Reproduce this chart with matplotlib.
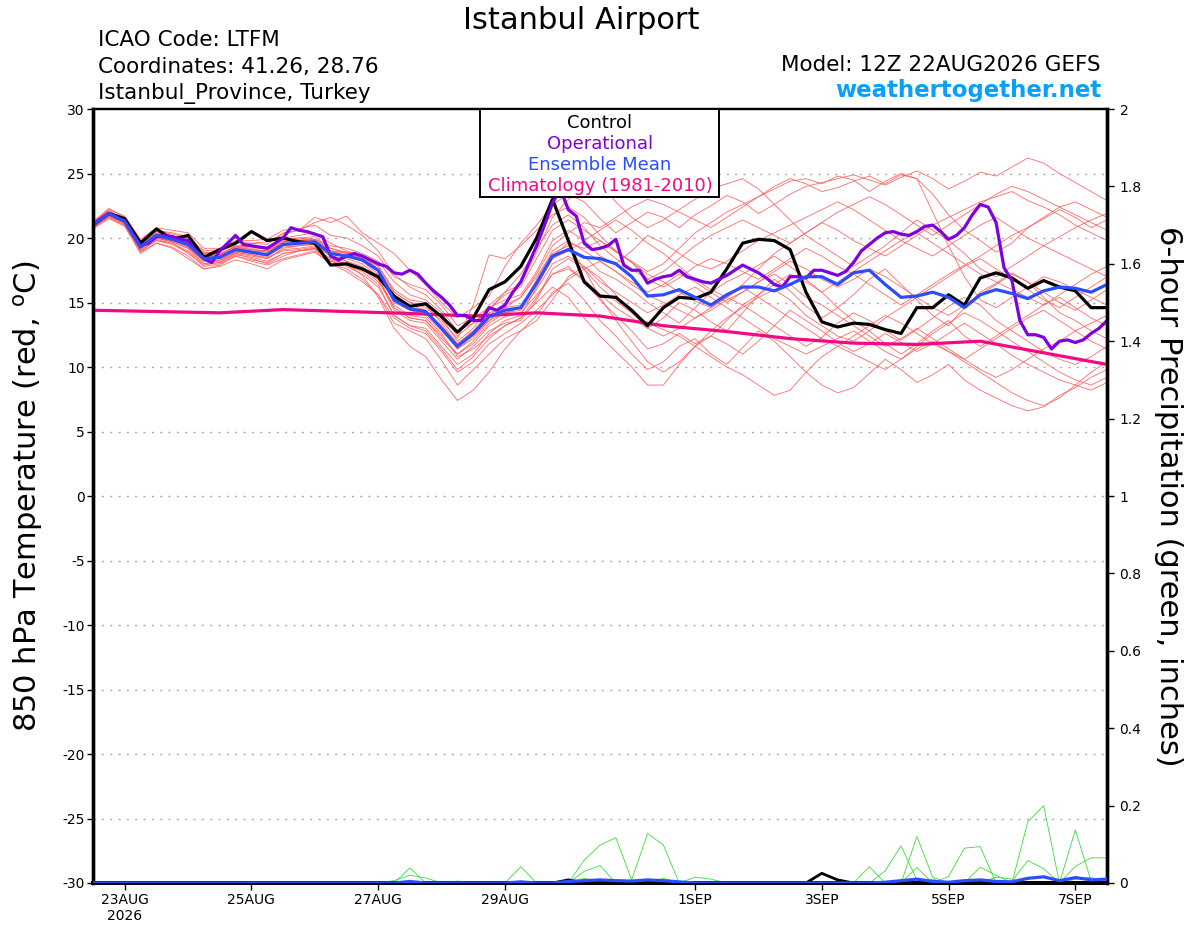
import matplotlib
matplotlib.use("Agg")
import matplotlib.pyplot as plt
import numpy as np
import pandas as pd

plt.rcParams['font.family'] = ['DejaVu Sans']

# ---------------- data ----------------
start = "2026-08-22 12:00"
n6 = 65
times6 = pd.date_range(start, periods=n6, freq="6h")
times3 = pd.date_range(start, periods=129, freq="3h")
clim_times = pd.date_range(start, periods=17, freq="24h")

control = [21.0, 21.9, 21.5, 19.6, 20.7, 19.9, 20.2, 18.5, 19.1, 19.6,
           20.5, 19.8, 20.0, 19.7, 19.6, 17.9, 18.0, 17.6, 17.0, 15.5,
           14.7, 14.9, 13.9, 12.7, 13.8, 16.0, 16.6, 17.8, 20.0, 23.0,
           19.8, 16.6, 15.5, 15.4, 14.4, 13.2, 14.6, 15.4, 15.3, 15.8,
           17.6, 19.6, 19.9, 19.8, 19.1, 15.8, 13.5, 13.1, 13.4, 13.3,
           12.9, 12.6, 14.6, 14.6, 15.6, 14.8, 16.9, 17.3, 16.9, 16.1,
           16.7, 16.2, 15.9, 14.6, 14.6]

operational = [21.0, 21.5, 21.9, 21.6, 21.3, 20.3, 19.4, 19.6, 20.1, 20.2,
               20.1, 19.9, 19.8, 19.0, 18.4, 18.1, 19.0, 19.6, 20.2, 19.5,
               19.4, 19.3, 19.2, 19.6, 20.0, 20.8, 20.6, 20.5, 20.3, 20.1,
               18.6, 18.3, 18.6, 18.8, 18.6, 18.3, 18.0, 17.8, 17.3, 17.2,
               17.5, 17.2, 16.5, 15.9, 15.4, 14.8, 14.0, 14.0, 13.6, 13.6,
               14.6, 14.4, 14.8, 15.8, 16.6, 18.0, 19.4, 21.0, 22.7, 23.8,
               22.2, 21.7, 19.6, 19.1, 19.2, 19.4, 19.9, 17.9, 17.5, 17.5,
               16.5, 16.8, 17.0, 17.1, 17.5, 17.0, 16.8, 16.6, 16.5, 16.8,
               17.1, 17.5, 17.9, 17.6, 17.3, 16.9, 16.4, 16.2, 17.0, 17.0,
               16.9, 17.5, 17.5, 17.3, 17.1, 17.4, 18.1, 19.0, 19.5, 20.0,
               20.4, 20.5, 20.3, 20.2, 20.5, 20.9, 21.0, 20.5, 19.9, 20.2,
               20.8, 21.8, 22.6, 22.4, 21.2, 17.7, 16.7, 13.6, 12.5, 12.5,
               12.3, 11.4, 12.0, 12.1, 11.9, 12.1, 12.6, 13.0, 13.6]

ens_mean = [21.0, 21.9, 21.3, 19.3, 20.2, 19.9, 19.5, 18.4, 18.5, 19.1,
            18.9, 18.7, 19.5, 19.6, 19.7, 18.8, 18.6, 18.3, 17.5, 15.2,
            14.5, 14.3, 13.0, 11.6, 12.6, 13.9, 14.4, 14.6, 16.5, 18.6,
            19.1, 18.5, 18.4, 18.0, 17.0, 15.5, 15.6, 16.0, 15.4, 14.8,
            15.6, 16.2, 16.2, 15.9, 16.4, 17.0, 17.0, 16.4, 17.3, 17.5,
            16.4, 15.4, 15.5, 15.8, 15.4, 14.6, 15.6, 16.0, 15.7, 15.3,
            15.9, 16.2, 16.1, 15.8, 16.4]

climatology = [14.4, 14.3, 14.2, 14.45, 14.3, 14.15, 13.95, 14.2, 13.95,
               13.2, 12.75, 12.2, 11.85, 11.75, 12.0, 11.1, 10.2]

m01 = [21.2, 22.3, 21.6, 19.8, 20.6, 20.3, 20.0, 18.9, 18.8, 19.3, 19.6, 19.5, 20.4, 20.6, 21.6,
       21.2, 21.7, 20.4, 19.6, 18.8, 17.5, 16.4, 15.0, 13.8, 14.6, 15.5, 17.8, 19.6, 21.0, 22.6, 23.4,
       22.8, 21.5, 20.4, 21.2, 22.0, 21.6, 20.8, 21.8, 22.5, 23.3, 22.8, 21.9, 22.6, 23.4, 24.0, 24.3, 24.6,
       24.9, 24.5, 24.1, 24.7, 25.2, 24.6, 23.8, 24.4, 25.1, 24.8, 25.5, 26.2, 25.8, 25.0, 24.3, 23.6, 22.9]
m02 = [20.8, 21.6, 21.0, 18.9, 19.6, 19.2, 18.4, 17.6, 17.8, 18.3, 18.0, 17.6, 18.3, 18.6, 18.9,
       18.0, 17.6, 16.8, 15.6, 13.4, 12.8, 12.2, 10.5, 8.6, 9.8, 11.0, 12.2, 12.8, 14.0, 15.8, 16.5,
       15.2, 13.6, 12.4, 11.0, 9.8, 10.4, 11.6, 12.2, 11.0, 10.2, 11.5, 12.8, 12.0, 10.8, 9.6, 8.6, 8.0,
       8.4, 9.5, 10.6, 9.8, 8.8, 9.4, 10.2, 9.0, 8.2, 7.6, 7.0, 6.6, 6.9, 7.8, 8.4, 9.2, 9.8]
m03 = [21.0, 21.8, 21.2, 19.0, 19.8, 19.6, 18.8, 17.9, 18.1, 18.8, 18.4, 18.0, 18.6, 19.0, 19.2,
       18.4, 18.0, 17.1, 15.4, 13.0, 11.6, 10.8, 9.0, 7.4, 8.2, 9.6, 11.4, 12.8, 13.6, 15.2, 17.0,
       17.8, 16.9, 15.6, 14.2, 13.0, 13.8, 15.0, 14.4, 13.5, 12.8, 14.2, 15.6, 16.8, 15.9, 14.7, 13.8, 14.6,
       15.6, 16.8, 17.6, 16.4, 15.2, 14.0, 13.2, 14.6, 15.8, 16.5, 17.3, 16.6, 15.4, 14.2, 13.6, 12.8, 12.2]
m04 = [21.1, 22.0, 21.4, 19.5, 20.4, 20.1, 19.6, 18.6, 18.7, 19.4, 19.2, 19.3, 19.9, 20.0, 19.9,
       19.4, 19.2, 18.8, 18.2, 16.6, 15.6, 15.2, 14.2, 12.4, 13.4, 14.5, 15.6, 16.2, 18.4, 20.6, 21.4,
       20.6, 19.8, 18.9, 18.2, 17.4, 18.0, 19.2, 20.4, 21.2, 22.0, 22.6, 23.2, 23.8, 24.4, 24.6, 24.2, 24.8,
       24.5, 23.6, 24.4, 25.0, 24.6, 23.4, 21.8, 20.6, 19.8, 18.9, 19.6, 20.8, 21.5, 22.2, 21.6, 20.8, 21.4]
m05 = [20.9, 21.7, 21.1, 19.1, 20.0, 19.7, 19.2, 18.0, 18.3, 18.8, 18.6, 18.4, 19.1, 19.2, 19.4,
       18.6, 18.4, 18.0, 17.0, 14.6, 13.8, 13.6, 12.2, 11.0, 11.8, 13.2, 13.9, 14.2, 15.6, 17.2, 17.8,
       16.6, 15.2, 14.0, 12.8, 11.4, 11.8, 12.6, 11.8, 12.4, 13.6, 14.8, 14.0, 13.2, 12.4, 11.6, 12.3, 13.4,
       14.2, 13.6, 12.8, 12.1, 12.9, 13.8, 14.7, 15.4, 14.8, 13.6, 12.8, 12.0, 11.2, 10.6, 10.2, 10.8, 11.6]
m06 = [21.0, 21.9, 21.4, 19.4, 20.3, 20.0, 19.8, 18.8, 18.9, 19.6, 19.4, 19.3, 20.0, 20.2, 20.4,
       19.6, 19.0, 18.6, 17.6, 15.8, 15.0, 14.6, 13.6, 12.2, 14.8, 18.7, 18.4, 19.4, 20.6, 21.8, 22.4,
       21.6, 20.2, 19.0, 18.1, 17.2, 16.6, 15.8, 15.1, 14.6, 15.4, 16.4, 17.6, 18.8, 19.6, 20.4, 21.2, 20.6,
       19.8, 19.2, 18.6, 19.4, 20.2, 21.0, 21.6, 22.2, 22.8, 23.2, 23.6, 22.9, 22.4, 21.8, 21.0, 20.4, 19.8]
m07 = [21.0, 21.8, 21.2, 19.2, 20.1, 19.8, 19.3, 18.2, 18.2, 18.9, 18.7, 18.4, 19.2, 19.4, 19.6,
       18.6, 18.2, 17.6, 16.6, 14.8, 14.0, 13.8, 12.6, 10.8, 11.4, 12.4, 13.2, 13.8, 15.0, 16.2, 15.4,
       13.8, 12.4, 11.2, 10.0, 8.6, 8.6, 10.2, 11.6, 12.4, 11.8, 11.0, 12.0, 13.2, 14.4, 13.6, 12.8, 11.9,
       11.2, 11.8, 12.6, 11.9, 11.2, 11.8, 12.6, 13.4, 12.6, 11.8, 10.9, 10.2, 9.6, 9.0, 8.6, 8.2, 8.8]
m08 = [21.2, 22.1, 21.5, 19.6, 20.5, 20.2, 19.8, 18.8, 19.0, 19.4, 19.3, 19.1, 19.8, 20.0, 20.1,
       19.2, 18.8, 18.5, 17.8, 16.0, 15.2, 15.0, 13.8, 12.0, 13.0, 14.8, 15.8, 16.4, 18.9, 21.6, 23.0,
       23.8, 24.2, 22.8, 21.6, 20.8, 21.4, 22.2, 23.0, 23.8, 24.2, 24.6, 23.8, 22.6, 21.4, 20.2, 19.4, 18.6,
       17.8, 18.6, 19.4, 20.4, 21.4, 20.6, 19.8, 18.8, 17.6, 17.0, 17.8, 18.6, 19.4, 20.1, 20.8, 21.4, 21.9]
m09 = [20.8, 21.7, 21.2, 19.0, 19.9, 19.6, 19.0, 18.0, 18.1, 18.7, 18.5, 18.2, 18.8, 19.0, 19.2,
       18.2, 17.9, 17.4, 16.4, 14.0, 13.2, 13.0, 11.6, 10.2, 11.0, 12.6, 13.6, 14.0, 16.2, 18.4, 19.2,
       18.6, 17.4, 16.8, 16.0, 15.0, 14.2, 13.4, 14.6, 15.8, 16.6, 17.2, 17.9, 18.6, 17.8, 16.8, 15.8, 14.6,
       13.6, 12.8, 11.8, 11.0, 11.8, 12.8, 13.6, 12.4, 11.6, 12.4, 13.2, 14.0, 14.8, 15.4, 14.6, 13.8, 13.2]
m10 = [21.1, 21.9, 21.4, 19.6, 20.4, 20.0, 19.6, 18.6, 18.6, 19.2, 19.0, 18.9, 19.6, 19.8, 19.8,
       19.0, 18.9, 18.6, 17.9, 15.8, 15.0, 14.8, 13.4, 11.8, 12.8, 14.2, 14.6, 14.8, 16.6, 18.6, 19.6,
       19.2, 19.8, 19.0, 18.1, 16.8, 16.2, 16.9, 17.8, 18.4, 18.0, 17.4, 16.8, 17.6, 18.4, 19.2, 18.6, 17.8,
       17.2, 16.4, 15.6, 14.8, 15.6, 16.4, 17.2, 17.9, 18.6, 19.4, 20.2, 20.8, 21.6, 22.4, 22.8, 22.2, 21.6]
m11 = [20.9, 21.8, 21.1, 19.2, 20.0, 19.7, 19.2, 18.2, 18.3, 18.9, 18.7, 18.5, 19.0, 19.1, 19.3,
       18.3, 18.0, 17.6, 16.8, 14.4, 13.6, 13.4, 12.0, 10.6, 11.6, 12.8, 13.4, 13.6, 15.2, 17.6, 18.4,
       17.6, 16.2, 15.1, 14.2, 13.4, 12.9, 12.4, 11.6, 10.8, 10.0, 9.4, 8.6, 7.8, 8.2, 9.6, 10.8, 11.6,
       12.4, 13.2, 14.0, 13.4, 12.6, 11.8, 11.2, 10.6, 11.4, 12.2, 13.0, 13.8, 14.4, 13.6, 12.8, 12.0, 11.4]
m12 = [21.3, 22.2, 21.7, 19.9, 20.8, 20.6, 20.4, 19.2, 19.2, 19.8, 19.8, 19.9, 20.6, 20.7, 21.0,
       20.2, 20.0, 19.4, 18.6, 17.0, 16.4, 16.0, 14.8, 13.2, 13.8, 14.6, 15.2, 15.6, 17.4, 19.8, 20.6,
       19.8, 18.6, 18.0, 19.0, 20.2, 19.6, 18.8, 18.0, 17.6, 18.2, 19.0, 19.8, 20.4, 21.0, 21.6, 22.2, 22.8,
       22.2, 21.4, 20.6, 19.8, 19.2, 18.6, 19.4, 20.2, 21.0, 21.6, 20.8, 20.0, 19.4, 18.8, 18.2, 17.6, 17.0]
m13 = [20.7, 21.5, 20.9, 18.8, 19.6, 19.3, 18.6, 17.6, 17.9, 18.6, 18.2, 17.9, 18.4, 18.7, 19.0,
       18.0, 17.4, 16.6, 15.6, 13.8, 13.0, 12.6, 11.2, 9.6, 10.4, 11.8, 12.6, 13.4, 14.4, 15.6, 16.8,
       17.6, 18.2, 17.4, 16.4, 15.6, 15.0, 14.4, 13.8, 14.4, 15.2, 15.8, 16.6, 17.2, 16.4, 15.4, 14.8, 14.0,
       13.2, 12.4, 11.6, 12.2, 13.0, 12.2, 11.4, 10.6, 9.8, 9.2, 9.8, 10.6, 11.4, 12.0, 12.8, 13.4, 14.0]
m14 = [21.0, 21.9, 21.3, 19.4, 20.3, 20.0, 19.5, 18.5, 18.6, 19.2, 19.1, 19.0, 19.7, 19.9, 19.9,
       19.0, 18.6, 18.2, 17.2, 15.0, 14.4, 14.0, 12.8, 11.4, 12.2, 13.6, 14.6, 15.4, 17.2, 19.4, 20.4,
       21.2, 20.8, 21.6, 22.4, 23.0, 22.6, 22.0, 21.4, 20.8, 21.6, 22.4, 23.2, 24.0, 24.6, 24.2, 23.6, 23.9,
       24.4, 24.8, 24.2, 24.9, 24.6, 22.0, 19.4, 17.0, 15.2, 14.6, 15.4, 16.2, 17.0, 16.6, 16.0, 15.4, 14.8]
m15 = [20.9, 21.7, 21.2, 19.2, 20.0, 19.8, 19.3, 18.3, 18.4, 19.0, 18.8, 18.6, 19.3, 19.4, 19.5,
       18.6, 18.2, 17.8, 16.8, 14.6, 13.8, 13.6, 12.4, 11.0, 12.0, 13.4, 14.2, 14.4, 16.0, 18.0, 18.6,
       17.8, 16.6, 15.8, 15.0, 14.2, 14.8, 15.6, 16.2, 15.4, 14.6, 13.8, 13.0, 12.2, 11.6, 11.0, 11.6, 12.2,
       12.8, 12.0, 11.2, 10.6, 11.4, 12.0, 11.2, 10.4, 9.6, 8.8, 8.0, 7.4, 7.0, 7.6, 8.6, 9.6, 10.4]
m16 = [21.0, 21.8, 21.3, 19.3, 20.2, 19.9, 19.4, 18.3, 18.5, 19.0, 18.8, 18.6, 19.4, 19.5, 19.6,
       18.8, 18.6, 18.2, 17.4, 15.2, 14.4, 14.2, 13.0, 11.6, 12.4, 13.6, 14.2, 14.6, 16.8, 19.0, 19.8,
       19.0, 18.2, 17.4, 16.6, 15.8, 16.4, 17.2, 16.6, 15.8, 15.0, 15.8, 16.6, 17.4, 18.2, 17.6, 16.8, 16.2,
       16.8, 17.6, 17.0, 16.2, 15.4, 14.6, 14.0, 14.8, 15.6, 16.4, 17.2, 16.6, 15.8, 15.0, 14.4, 15.2, 16.0]
m17 = [21.0, 21.9, 21.4, 19.5, 20.3, 20.1, 19.7, 18.7, 18.7, 19.3, 19.1, 19.0, 19.7, 19.8, 19.8,
       19.0, 18.8, 18.4, 17.6, 15.6, 14.8, 14.4, 13.2, 11.8, 12.8, 14.0, 14.8, 15.4, 17.0, 18.8, 19.4,
       17.6, 15.4, 13.6, 12.0, 10.4, 9.6, 10.4, 11.6, 12.8, 13.8, 14.6, 15.4, 16.0, 15.2, 14.0, 13.2, 12.4,
       12.0, 12.8, 13.8, 14.6, 15.4, 16.2, 17.0, 17.8, 18.4, 17.6, 16.8, 16.0, 15.2, 14.6, 15.4, 16.2, 17.0]
m18 = [21.2, 22.1, 21.5, 19.7, 20.6, 20.4, 20.1, 19.0, 19.1, 19.7, 19.6, 19.7, 20.3, 20.6, 21.2,
       21.6, 21.0, 20.2, 19.0, 17.2, 16.2, 15.6, 14.4, 12.8, 13.4, 14.4, 15.8, 17.2, 19.2, 21.0, 21.8,
       20.8, 19.4, 18.4, 17.6, 16.8, 17.4, 18.4, 19.4, 20.2, 20.8, 21.4, 20.8, 20.2, 19.6, 20.4, 21.2, 22.0,
       22.6, 23.2, 22.6, 21.8, 21.0, 20.2, 21.0, 21.8, 22.6, 23.4, 24.0, 23.6, 23.0, 22.4, 21.8, 21.2, 20.6]
m19 = [20.8, 21.6, 21.0, 19.0, 19.8, 19.5, 18.9, 17.8, 18.0, 18.6, 18.3, 18.1, 18.8, 19.0, 19.1,
       18.2, 17.8, 17.2, 16.2, 14.0, 13.2, 12.8, 11.4, 9.8, 10.8, 12.2, 13.2, 13.8, 15.4, 17.2, 17.6,
       16.8, 15.6, 14.6, 13.8, 13.0, 12.4, 13.0, 13.8, 14.6, 15.4, 16.2, 15.4, 14.6, 13.8, 13.0, 12.2, 11.6,
       11.0, 10.4, 9.8, 10.6, 11.6, 12.6, 13.4, 14.2, 13.6, 12.8, 12.0, 11.2, 10.4, 9.6, 9.0, 8.6, 9.2]
m20 = [21.1, 22.0, 21.4, 19.5, 20.3, 20.0, 19.7, 18.6, 18.7, 19.3, 19.1, 18.9, 19.7, 19.8, 19.9,
       19.2, 18.9, 18.4, 17.6, 15.4, 14.6, 14.4, 13.0, 11.4, 12.4, 13.8, 14.2, 14.6, 16.4, 18.4, 19.0,
       19.8, 20.6, 21.4, 20.6, 19.6, 18.8, 17.8, 16.8, 16.0, 15.4, 14.8, 15.6, 16.4, 17.2, 16.6, 15.8, 16.6,
       17.4, 18.2, 19.0, 19.8, 20.4, 19.6, 18.8, 18.0, 17.2, 16.6, 16.0, 15.4, 14.8, 15.6, 16.4, 17.2, 17.8]
members = [m01, m02, m03, m04, m05, m06, m07, m08, m09, m10,
           m11, m12, m13, m14, m15, m16, m17, m18, m19, m20]

# 6-hour precipitation (inches): non-zero entries only, {time index: value}
precip_members = [
    {},                                                          # m01
    {19: 0.006, 20: 0.02, 21: 0.013},                            # m02
    {38: 0.015, 39: 0.01},                                       # m03
    {54: 0.017, 55: 0.09, 56: 0.094},                            # m04
    {31: 0.059, 32: 0.098, 33: 0.117, 34: 0.008, 35: 0.128, 36: 0.098},  # m05
    {},                                                          # m06
    {20: 0.039, 59: 0.158, 60: 0.2, 62: 0.137, 63: 0.005},       # m07
    {},                                                          # m08
    {31: 0.03, 32: 0.045, 36: 0.012},                            # m09
    {58: 0.005, 59: 0.058, 60: 0.037, 62: 0.043, 63: 0.065, 64: 0.065},  # m10
    {23: 0.005, 27: 0.042, 56: 0.041, 57: 0.02},                 # m11
    {62: 0.01, 63: 0.015},                                       # m12
    {31: 0.012, 32: 0.003, 52: 0.04},                            # m13
    {},                                                          # m14
    {49: 0.042},                                                 # m15
    {53: 0.01, 57: 0.015, 58: 0.01},                             # m16
    {52: 0.12, 53: 0.015},                                       # m17
    {},                                                          # m18
    {50: 0.031, 51: 0.096, 52: 0.008},                           # m19
    {},                                                          # m20
]
precip_control = {30: 0.008, 46: 0.025, 47: 0.008}
precip_mean = {20: 0.004, 27: 0.003, 30: 0.004, 31: 0.006, 32: 0.008, 33: 0.006,
               34: 0.005, 35: 0.008, 36: 0.006, 37: 0.003, 50: 0.002, 51: 0.006,
               52: 0.01, 53: 0.004, 54: 0.002, 55: 0.006, 56: 0.008, 57: 0.004,
               58: 0.003, 59: 0.012, 60: 0.016, 61: 0.006, 62: 0.014, 63: 0.008,
               64: 0.01}

date_ticks = ["2026-08-23", "2026-08-25", "2026-08-27", "2026-08-29",
              "2026-09-01", "2026-09-03", "2026-09-05", "2026-09-07"]
date_labels = ["23AUG\n2026", "25AUG", "27AUG", "29AUG", "1SEP", "3SEP", "5SEP", "7SEP"]
temp_ticks = [30, 25, 20, 15, 10, 5, 0, -5, -10, -15, -20, -25, -30]
grid_levels = [25, 20, 15, 10, 5, 0, -5, -10, -15, -20, -25]
precip_ticks = [0, 0.2, 0.4, 0.6, 0.8, 1.0, 1.2, 1.4, 1.6, 1.8, 2.0]
precip_labels = ["0", "0.2", "0.4", "0.6", "0.8", "1", "1.2", "1.4", "1.6", "1.8", "2"]

lens = [len(m) for m in members] + [len(control), len(ens_mean), len(operational)]
if any(l != n6 for l in lens[:-1]) or lens[-1] != 129:
    raise ValueError("bad lengths: %s" % lens)


def dense(d):
    arr = [0.0] * n6
    for k, v in d.items():
        arr[k] = v
    return arr


# ---------------- figure ----------------
W, H = 1200, 927
fig = plt.figure(figsize=(W / 100, H / 100), dpi=100)
L, R, T, B = 93, 1107, 109, 883
ax = fig.add_axes([L / W, 1 - B / H, (R - L) / W, (B - T) / H])
ax2 = ax.twinx()

RED = "#ff5a5a"
PURPLE = "#8000e0"
BLUE = "#2a4dff"
PINK = "#f00a84"
GREEN = "#3ddc3d"

for m in members:
    ax.plot(times6, m, color=RED, lw=0.6, alpha=0.9, zorder=2)
ax.plot(clim_times, climatology, color=PINK, lw=2.3, zorder=3)
ax.plot(times6, control, color="black", lw=2.3, zorder=5)
ax.plot(times3, operational, color=PURPLE, lw=2.3, zorder=6)
ax.plot(times6, ens_mean, color=BLUE, lw=2.3, zorder=7)

for pm in precip_members:
    ax2.plot(times6, dense(pm), color=GREEN, lw=0.6, zorder=2)
ax2.plot(times6, dense(precip_control), color="black", lw=2.0, zorder=4)
ax2.plot(times6, dense(precip_mean), color=BLUE, lw=2.3, zorder=5)

ax.set_xlim(times6[0], times6[-1])
ax.set_ylim(-30, 30)
ax2.set_ylim(0, 2)

ax.set_yticks(temp_ticks)
ax.set_yticklabels([str(t) for t in temp_ticks], fontsize=10)
ax2.set_yticks(precip_ticks)
ax2.set_yticklabels(precip_labels, fontsize=10)
ax.set_xticks(pd.to_datetime(date_ticks))
ax.set_xticklabels(date_labels, fontsize=10, linespacing=1.2)

for g in grid_levels:
    ax.axhline(g, color="#aaaaaa", lw=1.0, ls=(0, (1.5, 4.5)), zorder=1)

ax.tick_params(axis="y", direction="out", length=4, width=1, pad=2)
ax.tick_params(axis="x", direction="out", length=5, width=1, pad=2)
ax2.tick_params(axis="y", direction="out", length=5, width=1, pad=4)

for a in (ax, ax2):
    a.spines["left"].set_linewidth(2.4)
    a.spines["right"].set_linewidth(2.4)
    a.spines["bottom"].set_linewidth(2.8)
    a.spines["top"].set_linewidth(1.6)

ax.set_ylabel(r"850 hPa Temperature (red, $^{\mathrm{o}}$C)", fontsize=22, labelpad=12)
ax2.set_ylabel("6-hour Precipitation (green, inches)", fontsize=22,
               rotation=-90, labelpad=30)

# legend box
lx0, lx1, ly0, ly1 = 480, 719, 109, 197
box = plt.Rectangle((lx0 / W, 1 - ly1 / H), (lx1 - lx0) / W, (ly1 - ly0) / H,
                    transform=fig.transFigure, facecolor="white",
                    edgecolor="black", lw=1.4, zorder=10)
fig.patches.append(box)
leg_items = [("Control", "black", 128), ("Operational", PURPLE, 149),
             ("Ensemble Mean", BLUE, 170), ("Climatology (1981-2010)", PINK, 191)]
for txt, col, yb in leg_items:
    fig.text(600 / W, 1 - yb / H, txt, color=col, fontsize=13, ha="center",
             va="baseline", zorder=11)

# header texts
fig.text(581 / W, 1 - 29 / H, "Istanbul Airport", fontsize=22, ha="center", va="baseline")
fig.text(98 / W, 1 - 46 / H, "ICAO Code: LTFM", fontsize=15.5, ha="left", va="baseline")
fig.text(98 / W, 1 - 73 / H, "Coordinates: 41.26, 28.76", fontsize=15.5, ha="left", va="baseline")
fig.text(98 / W, 1 - 99 / H, "Istanbul_Province, Turkey", fontsize=15.5, ha="left", va="baseline")
fig.text(1101 / W, 1 - 71 / H, "Model: 12Z 22AUG2026 GEFS", fontsize=15.5, ha="right", va="baseline")
fig.text(1101 / W, 1 - 97 / H, "weathertogether.net", fontsize=16.5, fontweight="bold",
         color="#0aa0f8", ha="right", va="baseline")

fig.savefig("out.png", dpi=100)
